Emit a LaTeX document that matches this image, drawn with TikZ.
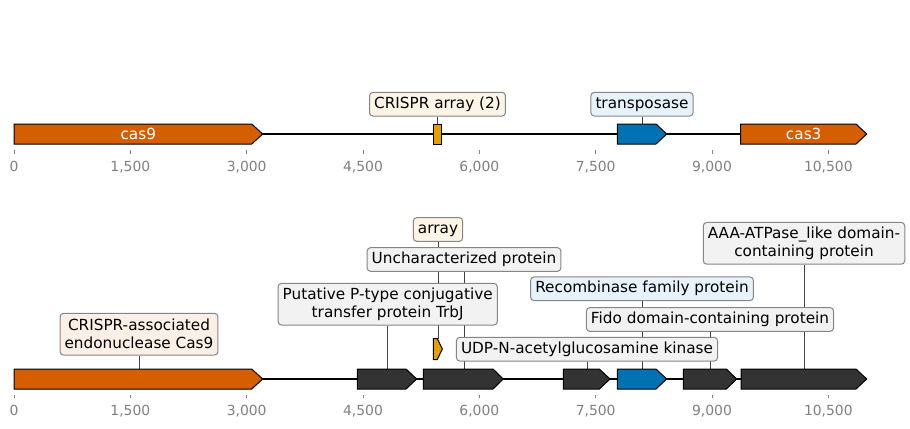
\documentclass[tikz,border=0pt]{standalone}
\usepackage{fontspec}
\setmainfont{DejaVu Sans}
\usetikzlibrary{backgrounds}

\definecolor{casorange}{HTML}{D55E00}
\definecolor{tnpblue}{HTML}{0072B2}
\definecolor{arrayyellow}{HTML}{E69F00}
\definecolor{genedark}{HTML}{333333}
\definecolor{tickgray}{HTML}{808080}
\definecolor{boxedge}{HTML}{858585}
\definecolor{fillorange}{RGB}{251,239,230}
\definecolor{fillyellow}{RGB}{252,245,230}
\definecolor{fillblue}{RGB}{230,243,251}
\definecolor{fillgray}{RGB}{242,242,242}

\begin{document}
\begin{tikzpicture}[x=0.72pt, y=-0.72pt, line width=0.72pt, font=\fontsize{11}{13}\selectfont,
  gene/.style={draw=black, line width=0.72pt, line join=miter},
  tagbox/.style={draw=boxedge, rounded corners=2.5pt, inner xsep=3.3pt, inner ysep=0pt, line width=0.72pt},
  tagone/.style={tagbox, text height=8pt, text depth=2.5pt, minimum height=17.1pt},
  tagtwo/.style={tagbox, align=center, minimum height=30pt},
  link/.style={draw=black!75, line width=0.6pt},
  tick/.style={draw=tickgray, line width=0.6pt},
  ticklab/.style={text=tickgray, font=\fontsize{10}{12}\selectfont, anchor=base, inner sep=0pt},
  track/.style={line width=1.1pt}]
\useasboundingbox (0,0) rectangle (910,428);
% top record: backbone and features
\draw[track] (14,134) -- (866.7,134);
\draw[gene, fill=casorange] (14,124) -- (251.7,124) -- (262.7,134) -- (251.7,144) -- (14,144) -- cycle;
\node[text=white] (cas9txt) at (138.3,133.5) {cas9};
\draw[gene, fill=arrayyellow] (433.3,124) rectangle (441.7,144);
\draw[gene, fill=tnpblue] (617.3,124) -- (656,124) -- (666.7,134) -- (656,144) -- (617.3,144) -- cycle;
\draw[gene, fill=casorange] (740.7,124) -- (856,124) -- (866.7,134) -- (856,144) -- (740.7,144) -- cycle;
\node[text=white] (cas3txt) at (803.7,133.5) {cas3};
\coordinate (arrtop) at (437.5,124);
\coordinate (tnptop) at (642,124);
% top labels
\node[tagone, fill=fillyellow] (arrtag) at (437.5,104.2) {CRISPR array (2)};
\node[tagone, fill=fillblue] (tnptag) at (642,104.2) {transposase};
% top axis
\draw[tick] (14,150) -- (14,153.5);
\draw[tick] (130.3,150) -- (130.3,153.5);
\draw[tick] (246.7,150) -- (246.7,153.5);
\draw[tick] (363,150) -- (363,153.5);
\draw[tick] (479.3,150) -- (479.3,153.5);
\draw[tick] (595.7,150) -- (595.7,153.5);
\draw[tick] (712,150) -- (712,153.5);
\draw[tick] (828.3,150) -- (828.3,153.5);
\node[ticklab] (ta0) at (14,171) {0};
\node[ticklab] (ta1) at (130.3,171) {1,500};
\node[ticklab] (ta2) at (246.7,171) {3,000};
\node[ticklab] (ta3) at (363,171) {4,500};
\node[ticklab] (ta4) at (479.3,171) {6,000};
\node[ticklab] (ta5) at (595.7,171) {7,500};
\node[ticklab] (ta6) at (712,171) {9,000};
\node[ticklab] (ta7) at (828.3,171) {10,500};
% bottom record: backbone and features
\draw[track] (14,379) -- (866.7,379);
\draw[gene, fill=casorange] (14,369) -- (251.7,369) -- (262.7,379) -- (251.7,389) -- (14,389) -- cycle;
\draw[gene, fill=genedark] (357.3,369) -- (406,369) -- (416.7,379) -- (406,389) -- (357.3,389) -- cycle;
\draw[gene, fill=genedark] (423.3,369) -- (493,369) -- (503.3,379) -- (493,389) -- (423.3,389) -- cycle;
\draw[gene, fill=arrayyellow] (433.3,338.5) -- (437.3,338.5) -- (442.3,349) -- (437.3,359.5) -- (433.3,359.5) -- cycle;
\draw[gene, fill=genedark] (563.3,369) -- (599.3,369) -- (610,379) -- (599.3,389) -- (563.3,389) -- cycle;
\draw[gene, fill=tnpblue] (617.3,369) -- (656,369) -- (666.7,379) -- (656,389) -- (617.3,389) -- cycle;
\draw[gene, fill=genedark] (683.3,369) -- (726.3,369) -- (736.7,379) -- (726.3,389) -- (683.3,389) -- cycle;
\draw[gene, fill=genedark] (741,369) -- (856,369) -- (866.7,379) -- (856,389) -- (741,389) -- cycle;
\coordinate (cas9top) at (139,369);
\coordinate (trbjtop) at (387.7,369);
\coordinate (unchtop) at (464,369);
\coordinate (arrbtop) at (438,338.5);
\coordinate (udptop) at (587,369);
\coordinate (rectop) at (642,369);
\coordinate (fidotop) at (710,369);
\coordinate (aaatop) at (804,369);
% bottom labels
\node[tagtwo, fill=fillorange] (cas9tag) at (139,334.2) {CRISPR-associated\\endonuclease Cas9};
\node[tagtwo, fill=fillgray] (trbjtag) at (387.7,304.2) {Putative P-type conjugative\\transfer protein TrbJ};
\node[tagone, fill=fillgray] (unchtag) at (464,259.5) {Uncharacterized protein~};
\node[tagone, fill=fillyellow] (arrbtag) at (438,229.5) {array};
\node[tagone, fill=fillblue] (rectag) at (642,288.8) {Recombinase family protein~};
\node[tagone, fill=fillgray] (fidotag) at (710,319.5) {Fido domain-containing protein};
\node[tagone, fill=fillgray] (udptag) at (587,349.2) {UDP-N-acetylglucosamine kinase};
\node[tagtwo, fill=fillgray] (aaatag) at (804,243.3) {AAA-ATPase\_like domain-\\containing protein};
% bottom axis
\draw[tick] (14,394.5) -- (14,398);
\draw[tick] (130.3,394.5) -- (130.3,398);
\draw[tick] (246.7,394.5) -- (246.7,398);
\draw[tick] (363,394.5) -- (363,398);
\draw[tick] (479.3,394.5) -- (479.3,398);
\draw[tick] (595.7,394.5) -- (595.7,398);
\draw[tick] (712,394.5) -- (712,398);
\draw[tick] (828.3,394.5) -- (828.3,398);
\node[ticklab] (tb0) at (14,415.7) {0};
\node[ticklab] (tb1) at (130.3,415.7) {1,500};
\node[ticklab] (tb2) at (246.7,415.7) {3,000};
\node[ticklab] (tb3) at (363,415.7) {4,500};
\node[ticklab] (tb4) at (479.3,415.7) {6,000};
\node[ticklab] (tb5) at (595.7,415.7) {7,500};
\node[ticklab] (tb6) at (712,415.7) {9,000};
\node[ticklab] (tb7) at (828.3,415.7) {10,500};
% leader lines, behind the boxes
\begin{scope}[on background layer]
\draw[link] (arrtag) -- (arrtop);
\draw[link] (tnptag) -- (tnptop);
\draw[link] (cas9tag) -- (cas9top);
\draw[link] (trbjtag) -- (trbjtop);
\draw[link] (unchtag) -- (unchtop);
\draw[link] (arrbtag) -- (arrbtop);
\draw[link] (udptag) -- (udptop);
\draw[link] (rectag) -- (rectop);
\draw[link] (fidotag) -- (fidotop);
\draw[link] (aaatag) -- (aaatop);
\end{scope}
\end{tikzpicture}
\end{document}
